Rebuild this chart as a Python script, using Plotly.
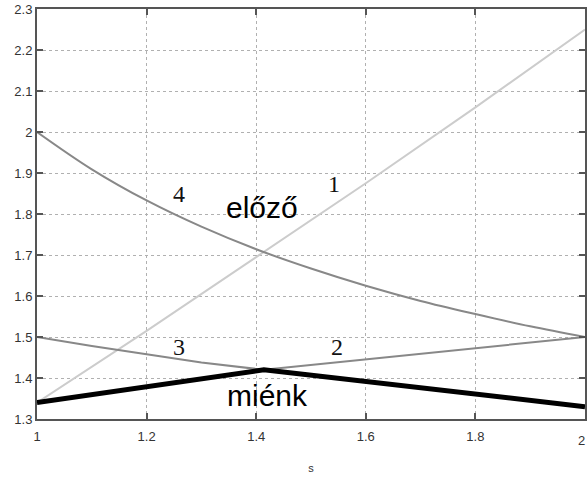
import plotly.graph_objects as go

# Curve 1 (light gray, rising)
s1 = [1.0, 1.2, 1.4, 1.6, 1.8, 2.0]
y1 = [1.34, 1.515, 1.695, 1.875, 2.06, 2.25]

# Curve 4 (gray, decreasing)
s4 = [1.0, 1.1, 1.2, 1.3, 1.4, 1.5, 1.6, 1.7, 1.8, 1.9, 2.0]
y4 = [2.0, 1.909, 1.833, 1.769, 1.714, 1.667, 1.625, 1.588, 1.556, 1.526, 1.5]

# Curves 3 and 2 (gray, thin, meeting at the peak)
s32 = [1.0, 1.1, 1.2, 1.3, 1.414, 1.6, 1.8, 2.0]
y32 = [1.5, 1.478, 1.458, 1.438, 1.42, 1.445, 1.472, 1.5]

# "miénk" (thick black)
s_m = [1.0, 1.414, 2.0]
y_m = [1.34, 1.42, 1.33]

x_ticks = [1, 1.2, 1.4, 1.6, 1.8, 2]
x_labels = ["1", "1.2", "1.4", "1.6", "1.8", "2"]
y_ticks = [1.3, 1.4, 1.5, 1.6, 1.7, 1.8, 1.9, 2.0, 2.1, 2.2, 2.3]
y_labels = ["1.3", "1.4", "1.5", "1.6", "1.7", "1.8", "1.9", "2", "2.1", "2.2", "2.3"]

tick_font = dict(family="Liberation Sans, Arial, sans-serif", size=13, color="#333333")

fig = go.Figure()
fig.add_trace(go.Scatter(x=s1, y=y1, mode="lines", line=dict(color="#cccccc", width=2), showlegend=False))
fig.add_trace(go.Scatter(x=s4, y=y4, mode="lines", line=dict(color="#888888", width=2, shape="spline"), showlegend=False))
fig.add_trace(go.Scatter(x=s32, y=y32, mode="lines", line=dict(color="#888888", width=2), showlegend=False))
fig.add_trace(go.Scatter(x=s_m, y=y_m, mode="lines", line=dict(color="#000000", width=5), showlegend=False))

serif = dict(family="Liberation Serif, Times New Roman, serif", size=24, color="#111111")
sans = dict(family="Liberation Sans, Arial, sans-serif", size=30, color="#000000")
for txt, x, y, f in [
    ("4", 1.26, 1.85, serif),
    ("1", 1.542, 1.874, serif),
    ("3", 1.26, 1.476, serif),
    ("2", 1.547, 1.476, serif),
    ("előző", 1.411, 1.815, sans),
    ("miénk", 1.42, 1.358, sans),
]:
    fig.add_annotation(x=x, y=y, text=txt, showarrow=False, font=f, xanchor="center", yanchor="middle")

# last x tick label sits on the figure edge (plotly would hide it), draw it as text
fig.add_annotation(x=x_ticks[-1], y=0, xref="x", yref="paper", text=x_labels[-1],
                   showarrow=False, font=tick_font, xanchor="right", yanchor="middle",
                   xshift=2, yshift=-21)

axis_common = dict(
    showline=True, linecolor="#555555", linewidth=2, mirror="ticks",
    ticks="inside", ticklen=6, tickcolor="#555555", tickwidth=2,
    showgrid=True, gridcolor="#b0b0b0", griddash="dot", gridwidth=1,
    zeroline=False, automargin=False,
    tickfont=tick_font,
)
fig.update_xaxes(range=[1, 2], tickvals=x_ticks, ticktext=x_labels[:-1] + [""],
                 ticklabelstandoff=4,
                 title=dict(text="s", font=dict(family="Liberation Sans, Arial, sans-serif", size=11, color="#333333"), standoff=22),
                 **axis_common)
fig.update_yaxes(range=[1.3, 2.3], tickvals=y_ticks, ticktext=y_labels, **axis_common)

fig.update_layout(
    width=587, height=481,
    margin=dict(l=37, r=2, t=9, b=62),
    plot_bgcolor="white", paper_bgcolor="white",
)
fig.write_html("out.html", config={"displayModeBar": False},
               post_script="document.body.style.margin='0px';")
